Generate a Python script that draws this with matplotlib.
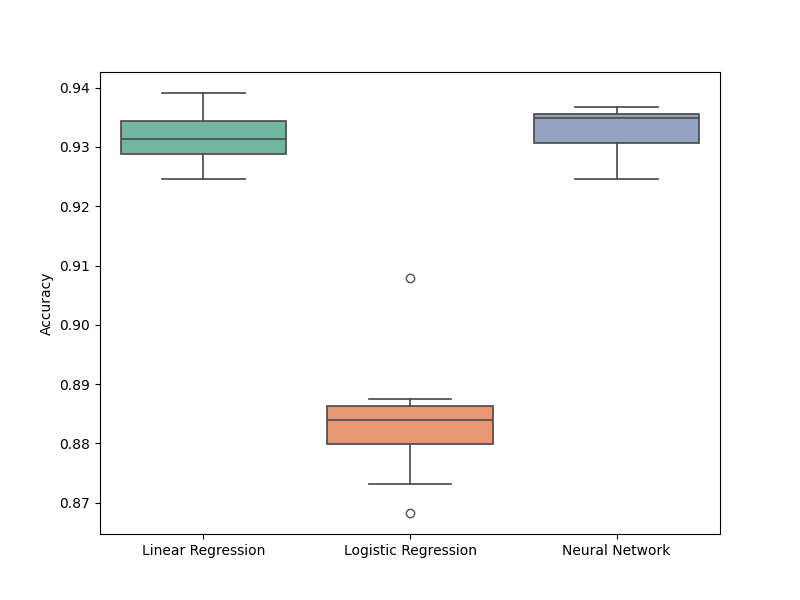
import matplotlib
matplotlib.use("Agg")
import matplotlib.pyplot as plt
import seaborn as sns

categories = ["Linear Regression", "Logistic Regression", "Neural Network"]
whisker_low = [0.92456, 0.87315, 0.92456]
q1 = [0.92884, 0.87993, 0.93069]
median = [0.93131, 0.88396, 0.93486]
q3 = [0.93435, 0.88632, 0.93556]
whisker_high = [0.93910, 0.88750, 0.93680]
fliers = [[], [0.90791, 0.86828], []]

colors = sns.color_palette("Set2", 3, desat=0.75)
line_color = (0.3, 0.3, 0.3)

fig, ax = plt.subplots(figsize=(8, 6), dpi=100)
stats = []
for i, name in enumerate(categories):
    stats.append(dict(label=name, whislo=whisker_low[i], q1=q1[i], med=median[i],
                      q3=q3[i], whishi=whisker_high[i], fliers=fliers[i]))

ax.bxp(stats, positions=range(len(categories)), widths=0.8, patch_artist=True,
       boxprops=dict(edgecolor=line_color, linewidth=1.25),
       medianprops=dict(color=line_color, linewidth=1.25),
       whiskerprops=dict(color=line_color, linewidth=1.25),
       capprops=dict(color=line_color, linewidth=1.25),
       flierprops=dict(marker="o", markerfacecolor="none", markeredgecolor=line_color,
                       markersize=6, linestyle="none"),
       capwidths=0.4)
for patch, c in zip(ax.patches, colors):
    patch.set_facecolor(c)

ax.set_xlim(-0.5, 2.5)
ax.set_ylabel("Accuracy")
ax.set_xticks(range(len(categories)))
ax.set_xticklabels(categories)
ax.margins(y=0.05)
fig.savefig("out.png", dpi=100)
